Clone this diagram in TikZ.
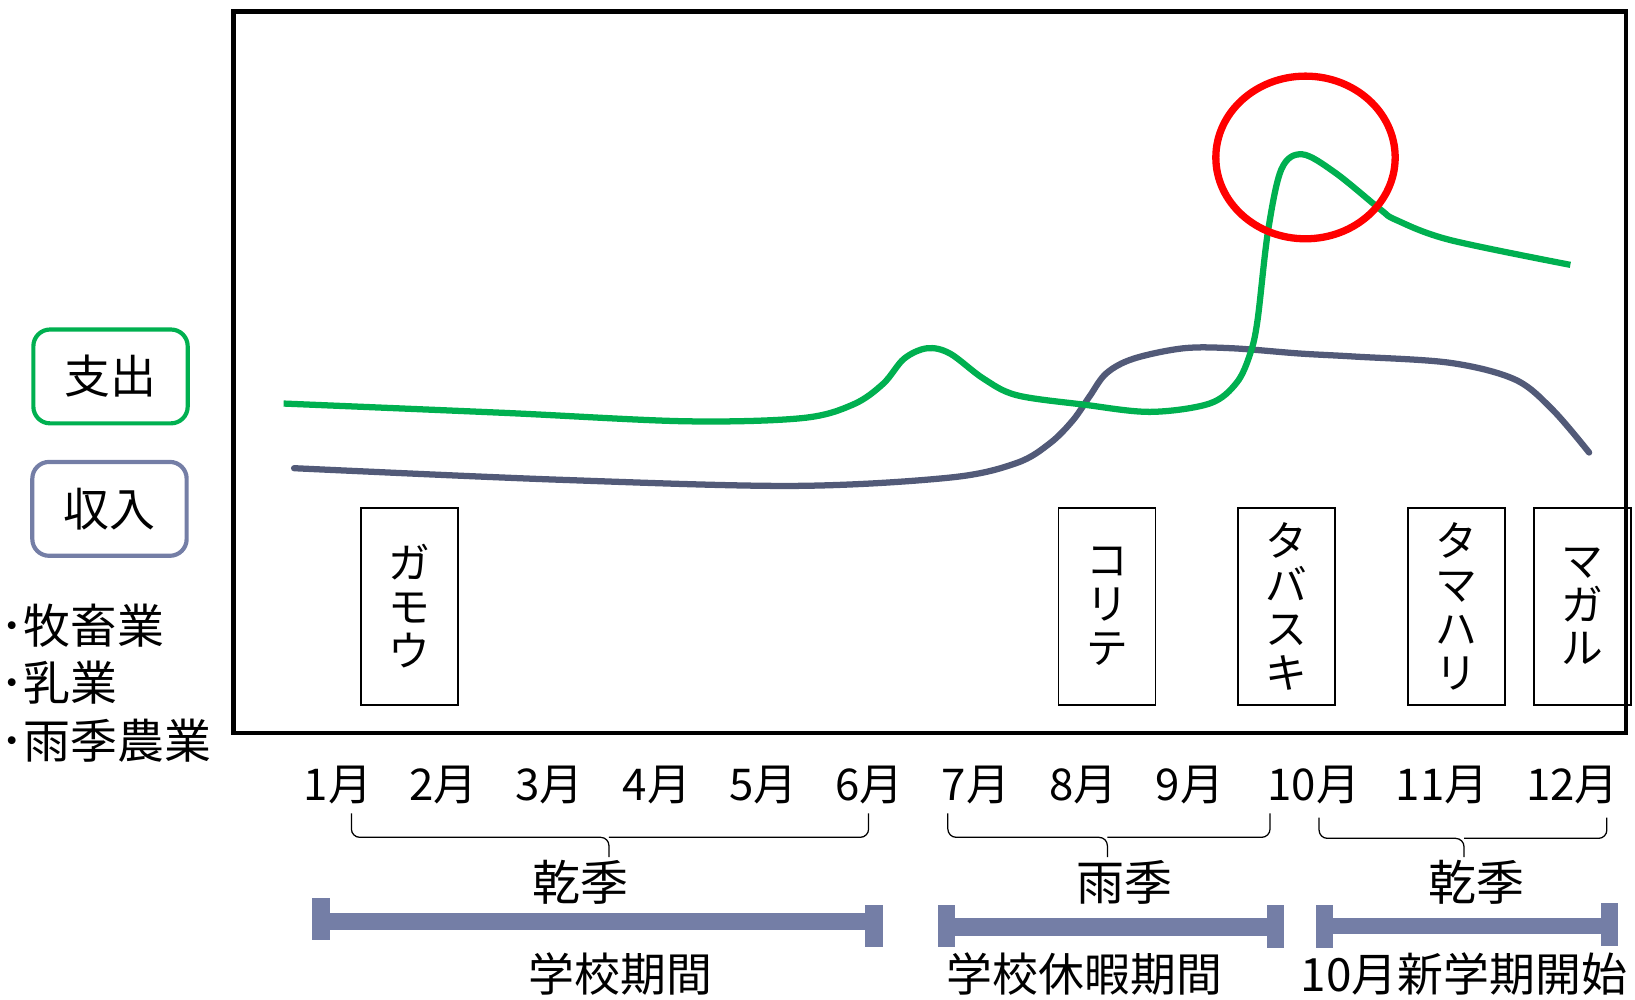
\documentclass[tikz,border=0pt]{standalone}
\usepackage{fontspec}
\setmainfont{Noto Sans CJK JP}
\definecolor{expgreen}{RGB}{0,176,80}
\definecolor{incblue}{RGB}{82,90,120}
\definecolor{barblue}{RGB}{116,126,166}
\definecolor{ringred}{RGB}{255,0,0}
\tikzset{
  legendbox/.style={draw, line width=2pt, rounded corners=8pt, minimum width=74pt, minimum height=45pt, inner sep=0pt, font=\fontsize{22pt}{24pt}\selectfont},
  namebox/.style={draw, line width=0.8pt, minimum width=46.5pt, minimum height=94.5pt, inner sep=0pt, align=center, font=\fontsize{20pt}{21pt}\selectfont},
  monthlbl/.style={inner sep=0pt, font=\fontsize{21pt}{24pt}\selectfont},
  seasonlbl/.style={inner sep=0pt, font=\fontsize{23pt}{26pt}\selectfont},
  periodlbl/.style={inner sep=0pt, font=\fontsize{22pt}{26pt}\selectfont},
  listlbl/.style={inner sep=0pt, anchor=west, font=\fontsize{22.5pt}{24pt}\selectfont},
  bracepath/.style={line width=0.6pt, rounded corners=4pt},
  barfill/.style={fill=barblue, draw=none},
  curve/.style={line width=3pt, smooth, tension=0.55}
}
\begin{document}
\begin{tikzpicture}[x=0.5pt, y=-0.5pt]
\useasboundingbox (0,0) rectangle (1568,959);
% frame
\draw[line width=2pt] (224,11) rectangle (1559,703);
% legend
\node[legendbox, draw=expgreen] (exp) at (106,361) {支出};
\node[legendbox, draw=barblue] (inc) at (105,488) {収入};
\node[listlbl] (l1) at (0,600) {･牧畜業};
\node[listlbl] (l2) at (0,655) {･乳業};
\node[listlbl] (l3) at (0,710) {･雨季農業};
% name boxes
\node[namebox] (b1) at (393,581.5) {ガ\\モ\\ウ};
\node[namebox] (b2) at (1061.5,581.5) {コ\\リ\\テ};
\node[namebox] (b3) at (1233.5,581.5) {タ\\バ\\ス\\キ};
\node[namebox] (b4) at (1396.5,581.5) {タ\\マ\\ハ\\リ};
\node[namebox] (b5) at (1517.5,581.5) {マ\\ガ\\ル};
% income curve
\draw[curve, incblue, line cap=round] plot coordinates {(282,449) (534,460) (760,466) (911,458) (975,444) (1007,425) (1029,403) (1045,380) (1061,358) (1087,344) (1135,334) (1182,334) (1246,339) (1300,342) (1391,348) (1453,364) (1489,393) (1524,434)};
% expense curve
\draw[curve, expgreen] plot coordinates {(272,387) (485,396) (657,404) (769,401) (818,388) (847,368) (867,344) (889,334) (911,339) (943,363) (975,379) (1039,388) (1103,395) (1160,387) (1186,367) (1199,339) (1206,307) (1216,222) (1229,162) (1249,148) (1281,166) (1324,201) (1339,211) (1390,230) (1506,254)};
% red ring
\draw[ringred, line width=3.5pt] (1252,151) ellipse [x radius=86, y radius=78];
% months
\node[monthlbl] (m1) at (324,753) {1月};
\node[monthlbl] (m2) at (425,753) {2月};
\node[monthlbl] (m3) at (527,753) {3月};
\node[monthlbl] (m4) at (630,753) {4月};
\node[monthlbl] (m5) at (732,753) {5月};
\node[monthlbl] (m6) at (834,753) {6月};
\node[monthlbl] (m7) at (936,753) {7月};
\node[monthlbl] (m8) at (1039,753) {8月};
\node[monthlbl] (m9) at (1141,753) {9月};
\node[monthlbl] (m10) at (1260,753) {10月};
\node[monthlbl] (m11) at (1383,753) {11月};
\node[monthlbl] (m12) at (1508,753) {12月};
% braces
\draw[bracepath] (337,780) -- (337,803) -- (584,803) -- (584,822);
\draw[bracepath] (833,780) -- (833,803) -- (584,803);
\draw[bracepath] (909,780) -- (909,803) -- (1062,803) -- (1062,822);
\draw[bracepath] (1218,780) -- (1218,803) -- (1062,803);
\draw[bracepath] (1265,784) -- (1265,804) -- (1404,804) -- (1404,822);
\draw[bracepath] (1541,784) -- (1541,804) -- (1404,804);
% seasons
\node[seasonlbl] (s1) at (557,846) {乾季};
\node[seasonlbl] (s2) at (1078,846) {雨季};
\node[seasonlbl] (s3) at (1416,846) {乾季};
% period bars
\fill[barfill] (299,861) rectangle (316,901);
\fill[barfill] (316,876) rectangle (831,892);
\fill[barfill] (830,868) rectangle (847,908);
\fill[barfill] (900,868) rectangle (916,908);
\fill[barfill] (916,880) rectangle (1215,898);
\fill[barfill] (1215,868) rectangle (1231,909);
\fill[barfill] (1262,868) rectangle (1278,909);
\fill[barfill] (1278,880) rectangle (1536,896);
\fill[barfill] (1535,866) rectangle (1552,907);
% periods
\node[periodlbl] (p1) at (595,934) {学校期間};
\node[periodlbl] (p2) at (1040,934) {学校休暇期間};
\node[periodlbl] (p3) at (1404,934) {10月新学期開始};
\end{tikzpicture}
\end{document}
